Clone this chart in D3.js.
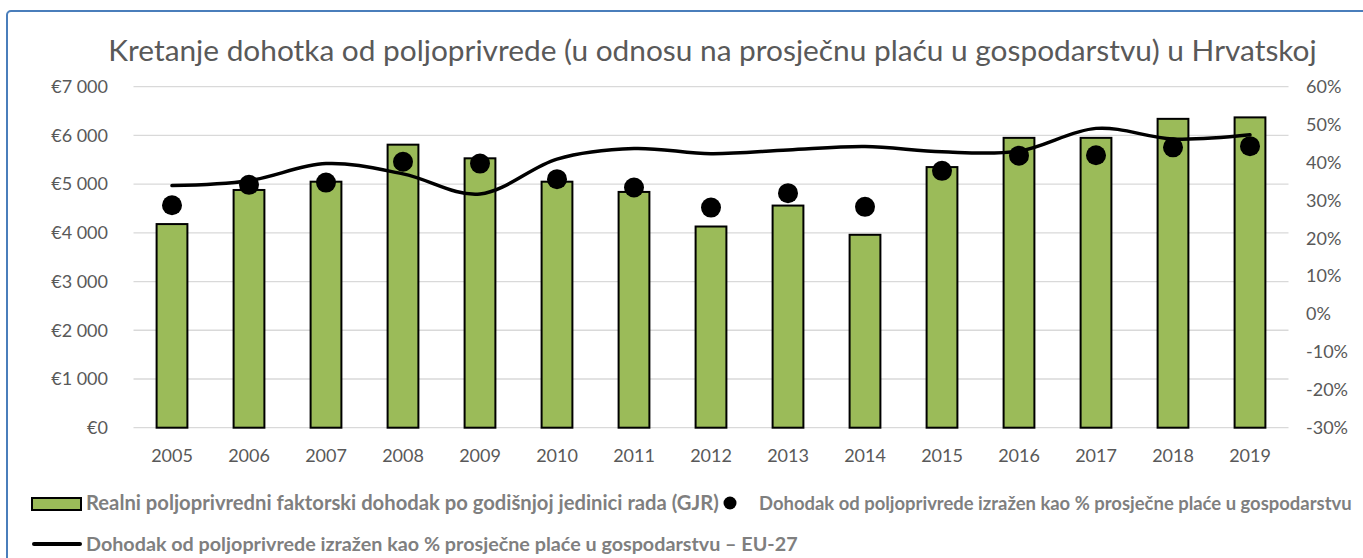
<!DOCTYPE html>
<html>
<head>
<meta charset="utf-8">
<script src="https://cdn.jsdelivr.net/npm/d3@7"></script>
<style>
  body { margin: 0; background: #fff; }
  svg { display: block; font-family: Lato, "Open Sans", sans-serif; }
</style>
</head>
<body>
<div id="chart"></div>
<script>
"use strict";

// Data
const years = ["2005", "2006", "2007", "2008", "2009", "2010", "2011", "2012", "2013", "2014", "2015", "2016", "2017", "2018", "2019"];
const incomeGJR = [4180, 4880, 5050, 5810, 5530, 5050, 4840, 4130, 4560, 3960, 5350, 5950, 5950, 6340, 6370];
const pctHR = [28.7, 34.1, 34.7, 40.2, 39.7, 35.6, 33.4, 28.1, 31.9, 28.3, 37.8, 41.8, 41.9, 44.0, 44.3];
const pctEU27 = [33.9, 35.2, 39.7, 37.0, 31.7, 40.9, 43.7, 42.3, 43.3, 44.2, 42.8, 43.0, 49.0, 46.2, 47.3];
const leftTicks = [0, 1000, 2000, 3000, 4000, 5000, 6000, 7000];
const rightTicks = [-30, -20, -10, 0, 10, 20, 30, 40, 50, 60];

const titleText = "Kretanje dohotka od poljoprivrede (u odnosu na prosječnu plaću u gospodarstvu) u Hrvatskoj";
const legendBars = "Realni poljoprivredni faktorski dohodak po godišnjoj jedinici rada (GJR)";
const legendDots = "Dohodak od poljoprivrede izražen kao % prosječne plaće u gospodarstvu";
const legendLine = "Dohodak od poljoprivrede izražen kao % prosječne plaće u gospodarstvu – EU-27";

const width = 1363, height = 558;
const plot = { left: 133.5, right: 1288.5, top: 86.7, bottom: 427.7 };
const textColor = "#595959";
const green = "#9BBB59";

const svg = d3.select("#chart").append("svg")
    .attr("width", width)
    .attr("height", height);

svg.append("rect")
    .attr("width", width).attr("height", height)
    .attr("fill", "#fff");

// chart frame (runs off right and bottom edge)
svg.append("rect")
    .attr("x", 7).attr("y", 11)
    .attr("width", width + 20).attr("height", height + 20)
    .attr("rx", 4)
    .attr("fill", "none")
    .attr("stroke", "#4A7EBB")
    .attr("stroke-width", 2);

// shrink or grow font size so a text fits a measured width
function fitWidth(sel, target) {
    let size = parseFloat(sel.attr("font-size"));
    let w = sel.node().getComputedTextLength();
    sel.attr("font-size", (size * target / w).toFixed(2));
}

// Title
let title = svg.append("text")
    .attr("x", 712.5).attr("y", 61)
    .attr("text-anchor", "middle")
    .attr("font-size", 28)
    .attr("fill", textColor)
    .text(titleText);
fitWidth(title, 1209);

// Scales
const x = d3.scaleBand()
    .domain(years)
    .range([plot.left, plot.right])
    .paddingInner(0.6)
    .paddingOuter(0.3);

const yLeft = d3.scaleLinear().domain([0, 7000]).range([plot.bottom, plot.top]);
const yRight = d3.scaleLinear().domain([-30, 60]).range([plot.bottom, plot.top]);

const euro = d3.formatLocale({ decimal: ",", thousands: " ", grouping: [3], currency: ["€", ""] }).format("$,");

// Gridlines
svg.append("g")
    .attr("class", "grid")
    .selectAll("line")
    .data(leftTicks)
    .enter().append("line")
    .attr("x1", plot.left)
    .attr("x2", plot.right)
    .attr("y1", d => yLeft(d))
    .attr("y2", d => yLeft(d))
    .attr("stroke", "#D9D9D9")
    .attr("stroke-width", 1.3);

// Left axis
let axisLeft = svg.append("g")
    .attr("transform", "translate(108,0)")
    .call(d3.axisLeft(yLeft).tickValues(leftTicks).tickFormat(euro).tickSize(0).tickPadding(0));
axisLeft.select(".domain").remove();
axisLeft.selectAll("text")
    .attr("font-size", 18)
    .attr("font-family", "Lato, sans-serif")
    .attr("fill", textColor);

// Right axis
let axisRight = svg.append("g")
    .attr("transform", "translate(1306,0)")
    .call(d3.axisRight(yRight).tickValues(rightTicks).tickFormat(d => d + "%").tickSize(0).tickPadding(0));
axisRight.select(".domain").remove();
axisRight.selectAll("text")
    .attr("font-size", 18)
    .attr("font-family", "Lato, sans-serif")
    .attr("fill", textColor);

// Bottom axis labels
let axisBottom = svg.append("g")
    .attr("transform", "translate(0," + plot.bottom + ")")
    .call(d3.axisBottom(x).tickSize(0).tickPadding(22));
axisBottom.select(".domain").remove();
axisBottom.selectAll("text")
    .attr("font-size", 18)
    .attr("font-family", "Lato, sans-serif")
    .attr("fill", textColor);

// Bars
svg.append("g")
    .attr("class", "bars")
    .selectAll("rect")
    .data(incomeGJR)
    .enter().append("rect")
    .attr("x", (d, i) => x(years[i]))
    .attr("width", x.bandwidth())
    .attr("y", d => yLeft(d))
    .attr("height", d => yLeft(0) - yLeft(d))
    .attr("fill", green)
    .attr("stroke", "#000")
    .attr("stroke-width", 2);

// EU-27 smoothed line
const line = d3.line()
    .x((d, i) => x(years[i]) + x.bandwidth() / 2)
    .y(d => yRight(d))
    .curve(d3.curveCardinal.tension(0));

svg.append("path")
    .datum(pctEU27)
    .attr("d", line)
    .attr("fill", "none")
    .attr("stroke", "#000")
    .attr("stroke-width", 3.5)
    .attr("stroke-linecap", "round");

// Croatia dots
svg.append("g")
    .attr("class", "dots")
    .selectAll("circle")
    .data(pctHR)
    .enter().append("circle")
    .attr("cx", (d, i) => x(years[i]) + x.bandwidth() / 2)
    .attr("cy", d => yRight(d))
    .attr("r", 10)
    .attr("fill", "#000");

// Legend
let legend = svg.append("g").attr("class", "legend");

legend.append("rect")
    .attr("x", 32).attr("y", 498)
    .attr("width", 49).attr("height", 12)
    .attr("fill", green)
    .attr("stroke", "#000")
    .attr("stroke-width", 2);

let lt1 = legend.append("text")
    .attr("x", 86).attr("y", 510)
    .attr("font-size", 17)
    .attr("font-weight", "bold")
    .attr("fill", "#7F7F7F")
    .text(legendBars);
fitWidth(lt1, 633);

legend.append("circle")
    .attr("cx", 730).attr("cy", 503)
    .attr("r", 6.5)
    .attr("fill", "#000");

let lt2 = legend.append("text")
    .attr("x", 759).attr("y", 510)
    .attr("font-size", 17)
    .attr("font-weight", "bold")
    .attr("fill", "#7F7F7F")
    .text(legendDots);
fitWidth(lt2, 593);

legend.append("line")
    .attr("x1", 34).attr("x2", 80)
    .attr("y1", 544).attr("y2", 544)
    .attr("stroke", "#000")
    .attr("stroke-width", 4)
    .attr("stroke-linecap", "round");

let lt3 = legend.append("text")
    .attr("x", 86).attr("y", 551)
    .attr("font-size", 17)
    .attr("font-weight", "bold")
    .attr("fill", "#7F7F7F")
    .text(legendLine);
fitWidth(lt3, 712);
</script>
</body>
</html>
